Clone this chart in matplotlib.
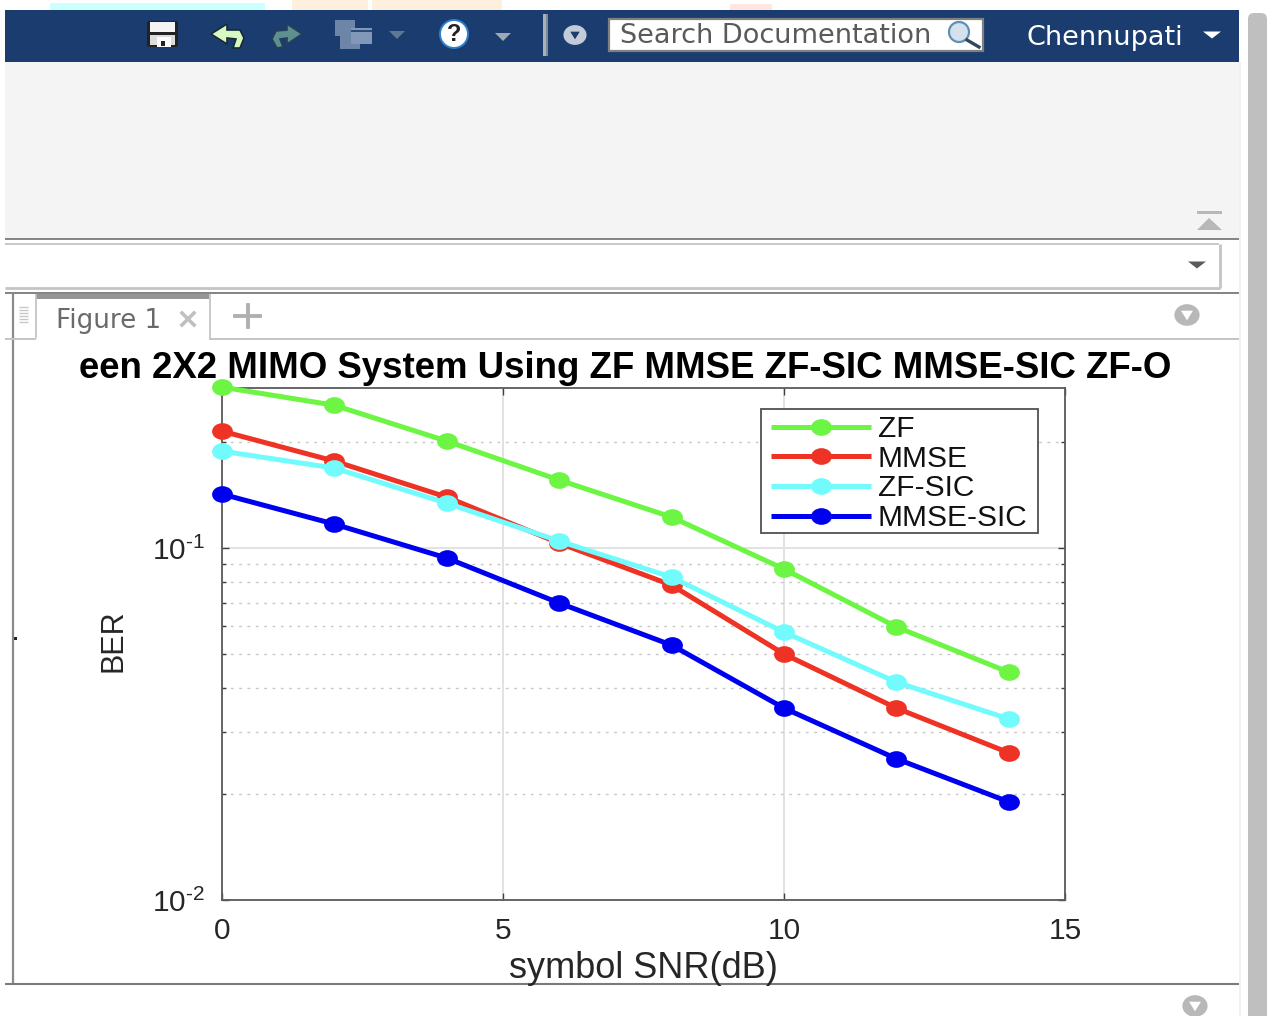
import numpy as np
import matplotlib
matplotlib.use('Agg')
import matplotlib.pyplot as plt
from matplotlib.markers import MarkerStyle
from matplotlib.transforms import Affine2D
from matplotlib.patches import Rectangle, Polygon, Circle, Ellipse, FancyBboxPatch
from matplotlib.ticker import FixedLocator, FixedFormatter, NullFormatter

W, H = 1268, 1016

snr = [0, 2, 4, 6, 8, 10, 12, 14]
ber_zf = [0.2867, 0.2547, 0.2014, 0.1561, 0.1225, 0.0872, 0.0597, 0.0444]
ber_mmse = [0.2150, 0.1767, 0.1396, 0.1033, 0.0785, 0.0500, 0.0351, 0.0262]
ber_zf_sic = [0.1886, 0.1688, 0.1342, 0.1047, 0.0827, 0.0577, 0.0416, 0.0327]
ber_mmse_sic = [0.1424, 0.1170, 0.0937, 0.0698, 0.0530, 0.0351, 0.0252, 0.0190]

series_names = ['ZF', 'MMSE', 'ZF-SIC', 'MMSE-SIC']
series_colors = ['#6cf542', '#ee3224', '#72fbfd', '#0000f0']

x_ticks = [0, 5, 10, 15]
x_labels = ['0', '5', '10', '15']
y_ticks = [0.01, 0.1]

plt.rcParams['font.family'] = ['Liberation Sans', 'DejaVu Sans']
plt.rcParams['mathtext.fontset'] = 'custom'
plt.rcParams['mathtext.rm'] = 'Liberation Sans'
plt.rcParams['mathtext.default'] = 'rm'

fig = plt.figure(figsize=(W / 100, H / 100), dpi=100, facecolor='white')

# window chrome, drawn in pixel coordinates
ui = fig.add_axes([0, 0, 1, 1], zorder=0)
ui.set_xlim(0, W)
ui.set_ylim(H, 0)
ui.axis('off')


def box(x0, y0, x1, y1, color, **kw):
    ui.add_patch(Rectangle((x0, y0), x1 - x0, y1 - y0, facecolor=color, edgecolor='none', **kw))


def hline(y, x0, x1, color='#808080', lw=1.4):
    ui.plot([x0, x1], [y, y], color=color, lw=lw, solid_capstyle='butt')


def vline(x, y0, y1, color='#808080', lw=1.4):
    ui.plot([x, x], [y0, y1], color=color, lw=lw, solid_capstyle='butt')


def tri(cx, cy, w, h, color):
    ui.add_patch(Polygon([(cx - w / 2, cy - h / 2), (cx + w / 2, cy - h / 2), (cx, cy + h / 2)],
                         facecolor=color, edgecolor='none'))


def round_arrow(cx, cy, color, r=10):
    ui.add_patch(Ellipse((cx, cy), r * 2.1, r * 1.8, facecolor=color, edgecolor='none'))
    tri(cx, cy + 0.5, r, r * 0.8, 'white')


# faint banner left above the toolbar
box(50, 3, 265, 10, '#ccffff')
box(292, 0, 368, 10, '#ffefdf')
box(372, 0, 502, 10, '#ffefdf')
box(730, 4, 772, 10, '#ffe6e2')

box(5, 62, 1239, 238, '#f4f4f4')
box(5, 10, 1239, 62, '#1a3c6e')
ui.add_patch(FancyBboxPatch((1251, 16), 13, 1010, boxstyle='round,pad=3,rounding_size=6',
                            facecolor='#bfbfbf', edgecolor='none'))
box(1239, 62, 1241, 1016, '#f0f0f0')

# toolbar icons
ui.add_patch(FancyBboxPatch((147, 21), 31, 26, boxstyle='round,pad=0,rounding_size=2',
                            facecolor='#222222', edgecolor='none'))
box(150, 22, 175, 32, '#f4f4f4')
box(150, 35, 175, 45, '#dcdcdc')
box(157, 37, 171, 47, '#fafafa')
box(161, 41, 165, 46, '#222222')
ui.add_patch(Polygon([(211, 34), (227, 24), (227, 30), (240, 30), (244, 38), (240, 48), (233, 48),
                      (236, 39), (227, 38), (227, 44)],
                     facecolor='#d7f7c3', edgecolor='#1a2a33', lw=1.2))
ui.add_patch(Polygon([(302, 34), (287, 24), (287, 30), (276, 31), (272, 39), (277, 48), (283, 47),
                      (280, 39), (287, 38), (287, 44)],
                     facecolor='#5f8f8f', edgecolor='#25405a', lw=1.2))
box(335, 20, 355, 36, '#6d86a8')
box(340, 36, 360, 49, '#6d86a8')
box(351, 28, 372, 44, '#8198b8')
hline(31, 351, 372, '#1a3c6e', 1.2)
tri(397, 35, 16, 8, '#5f7696')
ui.add_patch(Circle((454, 34), 14, facecolor='white', edgecolor='#2f7fd0', lw=1.4))
ui.text(454, 34.5, '?', fontsize=17, fontweight='bold', color='#222222', ha='center', va='center')
tri(503, 37, 16, 8, '#a0a8b2')
box(543, 14, 546, 56, '#a8b0b8')
box(546, 14, 548, 56, '#7d8a9a')
round_arrow(575, 35, '#c3cbd8', 11)
tri(575, 35.5, 10, 8, '#1a3c6e')

# search box
ui.add_patch(Rectangle((609, 19), 374, 32, facecolor='white', edgecolor='#808080', lw=1.6))
ui.text(620, 36, 'Search Documentation', fontsize=19.5, color='#5a5a5a', va='center', ha='left',
        family=['DejaVu Sans'])
ui.add_patch(Circle((959, 32), 10, facecolor='#d5e2ee', edgecolor='#5f8fb5', lw=1.6))
ui.plot([967, 979], [40, 47], color='#33475c', lw=2.4)
ui.text(1026, 38, 'Chennupati', fontsize=19.5, color='white', va='center', ha='left',
        family=['DejaVu Sans'])
tri(1212, 35, 18, 7, 'white')

# strip under the toolbar
box(1197, 211, 1222, 214, '#b8b8b8')
ui.add_patch(Polygon([(1197, 230), (1222, 230), (1209, 218)], facecolor='#b8b8b8', edgecolor='none'))
hline(238.5, 5, 1239, '#7a7a7a', 1.3)
box(5, 244, 1219, 288, 'white')
hline(244, 5, 1219, '#c4c4c4', 1.3)
hline(288, 5, 1220, '#c4c4c4', 2)
vline(1220, 244, 288, '#c4c4c4', 2)
tri(1197, 265, 18, 7, '#5a5a5a')
hline(293, 5, 1239, '#7a7a7a', 1.3)

# figure tab bar
vline(12.5, 293, 984, '#8a8a8a', 1.6)
box(36, 294, 209, 299, '#969696')
vline(35.5, 294, 338, '#c0c0c0', 1.2)
vline(209.5, 294, 338, '#c0c0c0', 1.2)
hline(338.5, 209, 1239, '#c4c4c4', 1.4)
hline(338.5, 5, 36, '#c4c4c4', 1.4)
for yy in range(307, 324, 3):
    hline(yy, 19, 28, '#c8c8c8', 1)
ui.text(56, 321, 'Figure 1', fontsize=18.8, color='#6a6a6a', va='center', ha='left',
        family=['DejaVu Sans'])
ui.plot([182, 194], [313, 325], color='#c0c0c0', lw=2.6)
ui.plot([182, 194], [325, 313], color='#c0c0c0', lw=2.6)
ui.plot([235, 260], [316, 316], color='#b0b0b0', lw=2.8)
ui.plot([247.5, 247.5], [305, 327], color='#b0b0b0', lw=2.8)
round_arrow(1187, 315, '#b8b8b8', 12)
hline(984, 5, 1239, '#7a7a7a', 1.5)
round_arrow(1195, 1006, '#b8b8b8', 12)
box(14, 637, 17, 640, '#222222')

# the plot itself
ax = fig.add_axes([222 / W, 1 - 900 / H, (1065 - 222) / W, (900 - 388) / H], zorder=2)
ax.set_facecolor('white')
ax.set_yscale('log')
ax.set_xlim(0, 15)
ax.set_ylim(0.01, 0.2851)

# markers in the screenshot are wider than tall
oval = MarkerStyle('o', transform=Affine2D().scale(1.25, 1))
all_series = [ber_zf, ber_mmse, ber_zf_sic, ber_mmse_sic]
for vals, name, col in zip(all_series, series_names, series_colors):
    ax.plot(snr, vals, color=col, lw=3.6, marker=oval, ms=12, mec=col, mew=0, label=name,
            clip_on=False, zorder=4, solid_capstyle='butt')

ax.xaxis.set_major_locator(FixedLocator(x_ticks))
ax.xaxis.set_major_formatter(FixedFormatter(x_labels))
ax.yaxis.set_major_locator(FixedLocator(y_ticks))
ax.yaxis.set_major_formatter(FixedFormatter([r'$10^{\text{-2}}$', r'$10^{\text{-1}}$']))
ax.yaxis.set_minor_locator(FixedLocator([m * 0.01 for m in range(2, 10)] + [0.2]))
ax.yaxis.set_minor_formatter(NullFormatter())
ax.tick_params(axis='both', which='major', direction='in', length=5, width=1, top=True, right=True,
               labelsize=21.5, labelcolor='#262626', color='#404040', pad=12)
ax.tick_params(axis='y', which='minor', direction='in', length=3, width=1, left=True, right=True,
               color='#404040')
ax.grid(True, which='major', color='#e2e2e2', lw=1.4)
ax.grid(True, which='minor', axis='y', color='#c8c8c8', lw=1, ls=(0, (2, 4)))
ax.set_axisbelow(True)
for s in ax.spines.values():
    s.set_color('#5a5a5a')
    s.set_linewidth(1.3)

ax.set_xlabel('symbol SNR(dB)', fontsize=26, color='#262626', labelpad=4.5)
ax.set_ylabel('BER', fontsize=22, color='#262626', labelpad=17, y=0.506)

# legend frame drawn apart, its padding is wider than tall
ax.add_patch(Rectangle((761, 409), 277, 124, transform=ui.transData, facecolor='white',
                       edgecolor='#505050', lw=1.3, zorder=5, clip_on=False))
leg = ax.legend(loc='upper left', bbox_to_anchor=((771 - 222) / 843, 1 - (415 - 388) / 512),
                fontsize=21.5, frameon=False, handlelength=3.345, handletextpad=0.234,
                labelspacing=0.057, borderaxespad=0, borderpad=0)
leg.set_zorder(6)
for t in leg.get_texts():
    t.set_color('#111111')

# only the part of the title that the panel shows
fig.text(1171 / W, 1 - 368 / H, 'een 2X2 MIMO System Using ZF MMSE ZF-SIC MMSE-SIC ZF-O',
         fontsize=26.4, fontweight='bold', color='black', ha='right', va='center')

fig.savefig('out.png', dpi=100)
